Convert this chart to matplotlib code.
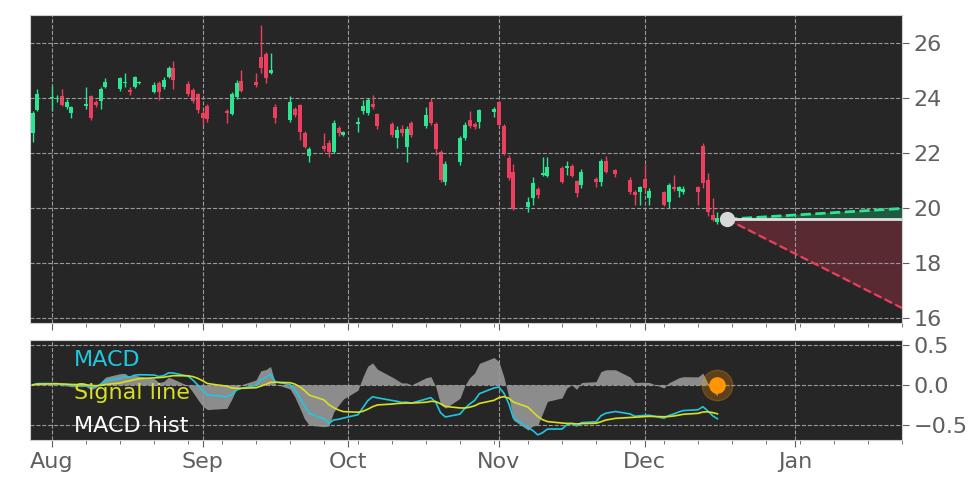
import pandas as pd
import numpy as np
import matplotlib
matplotlib.use('Agg')
import matplotlib.pyplot as plt
import matplotlib.dates as mdates

# trading days, Jul 28 - Dec 16 2022
dates = pd.bdate_range("2022-07-28", "2022-12-16", freq="C", holidays=["2022-09-05", "2022-11-24"])

opens = [22.70, 23.55, 23.98, 23.94, 24.04, 23.67, 23.43, 23.71, 24.04, 23.85, 23.89, 24.38, 24.30, 24.52, 24.28,
         24.40, 24.52, 24.22, 24.52, 24.40, 24.74, 25.07, 24.48, 24.28, 24.12, 23.43, 23.71, 23.52, 23.41, 24.01,
         24.61, 24.58, 25.47, 25.59, 24.88, 23.65, 23.19, 23.59, 23.72, 22.70, 21.88, 22.25, 22.34, 22.04, 22.88,
         22.64, 23.05, 23.53, 23.43, 23.76, 23.41, 23.04, 22.52, 22.85, 22.19, 23.07, 22.95, 23.85, 23.04, 22.04,
         20.95, 21.67, 22.52, 23.19, 23.04, 23.13, 23.47, 23.83, 22.95, 21.79, 21.31, 20.04, 20.34, 20.67, 21.19,
         21.16, 21.45, 21.43, 21.53, 20.97, 20.82, 21.03, 20.95, 21.71, 21.36, 21.01, 20.58, 20.58, 21.04, 20.34,
         20.56, 20.22, 20.74, 20.62, 20.58, 20.74, 22.24, 21.01, 19.73, 19.49]
closes = [23.43, 24.12, 24.00, 24.00, 23.73, 23.85, 23.67, 23.76, 23.25, 23.73, 24.30, 24.58, 24.70, 24.58, 24.22,
          24.74, 24.56, 24.46, 24.22, 24.64, 25.07, 24.64, 24.13, 23.89, 23.55, 23.25, 23.22, 23.43, 24.12, 24.52,
          24.24, 24.46, 25.07, 24.70, 25.01, 23.25, 23.84, 23.35, 22.76, 22.22, 22.12, 22.13, 22.04, 23.07, 22.70,
          22.74, 23.07, 23.70, 23.92, 23.65, 22.95, 22.64, 22.82, 22.70, 22.85, 22.64, 23.37, 23.07, 22.12, 21.01,
          21.59, 22.52, 23.02, 22.95, 22.92, 23.55, 23.59, 23.01, 21.98, 21.07, 19.94, 20.22, 20.88, 20.46, 21.25,
          21.47, 20.95, 21.52, 21.15, 20.52, 21.28, 20.92, 21.71, 21.31, 21.22, 20.58, 20.46, 20.76, 20.70, 20.62,
          20.10, 20.82, 20.67, 20.74, 20.68, 20.58, 20.91, 19.85, 19.55, 19.61]
highs = [23.50, 24.30, 24.42, 24.10, 24.30, 23.95, 23.70, 24.40, 24.10, 23.90, 24.38, 24.70, 24.75, 24.88, 24.40,
         24.80, 24.60, 24.55, 24.60, 24.75, 25.15, 25.33, 24.60, 24.35, 24.15, 23.50, 23.75, 23.60, 24.20, 24.64,
         25.01, 24.88, 26.65, 25.65, 25.61, 23.75, 24.04, 23.65, 23.75, 22.80, 22.20, 22.70, 22.45, 23.20, 22.95,
         22.80, 23.30, 23.90, 24.00, 24.10, 23.45, 23.10, 22.95, 23.00, 22.95, 23.15, 23.67, 23.98, 23.10, 22.10,
         21.70, 22.60, 23.10, 23.50, 23.10, 23.60, 23.65, 23.88, 23.05, 21.90, 21.60, 20.40, 21.10, 20.75, 21.85,
         21.85, 21.50, 21.71, 21.60, 21.00, 21.40, 21.10, 21.75, 21.88, 21.40, 21.10, 20.65, 20.80, 21.60, 20.70,
         20.60, 20.90, 21.19, 20.80, 20.80, 20.80, 22.36, 21.25, 20.34, 19.85]
lows = [22.40, 23.50, 23.50, 23.85, 23.70, 23.60, 23.25, 23.60, 23.20, 23.65, 23.60, 24.35, 24.25, 24.40, 24.10,
        24.35, 24.48, 24.15, 23.92, 24.30, 24.70, 24.30, 24.05, 23.80, 23.45, 23.00, 23.10, 23.07, 23.35, 23.95,
        24.20, 24.40, 24.90, 24.52, 24.85, 23.07, 23.10, 23.30, 22.46, 22.15, 21.67, 22.05, 21.85, 21.98, 22.60,
        22.60, 22.76, 23.40, 23.35, 23.60, 22.85, 22.55, 22.16, 22.60, 21.67, 22.55, 22.90, 23.00, 21.92, 20.95,
        20.82, 21.55, 22.45, 22.90, 22.85, 22.88, 23.30, 22.95, 21.90, 21.00, 19.90, 19.85, 20.10, 20.35, 21.15,
        21.10, 20.90, 21.20, 21.10, 20.40, 20.70, 20.75, 20.80, 21.25, 21.10, 20.50, 20.10, 20.10, 20.60, 20.10,
        20.05, 20.00, 20.60, 20.40, 20.50, 20.10, 20.70, 19.70, 19.50, 19.40]

# forecast cone
proj_start = pd.Timestamp("2022-12-18")
proj_end = pd.Timestamp("2023-01-23")
proj_base = 19.58
proj_up = 19.97
proj_down = 16.35

GREEN = '#2be592'
RED = '#ec3f5e'
BG = '#262626'
TXT = '#5f5f5f'

close_s = pd.Series(closes, index=dates)
macd = close_s.ewm(span=12).mean() - close_s.ewm(span=26).mean()
signal = macd.ewm(span=9).mean()
hist = macd - signal

fig = plt.figure(figsize=(9.72, 4.86), dpi=100)
ax = fig.add_axes([0.031, 0.335, 0.897, 0.634])
ax2 = fig.add_axes([0.031, 0.095, 0.897, 0.205], sharex=ax)

for a in (ax, ax2):
    a.set_facecolor(BG)
    a.grid(True, color='#9a9a9a', linestyle='--', linewidth=0.8)
    a.yaxis.tick_right()
    a.tick_params(colors=TXT, labelsize=16, length=5)
    for sp in a.spines.values():
        sp.set_color('#cfcfcf')

w = 0.6
for d, o, c, h, l in zip(dates, opens, closes, highs, lows):
    col = GREEN if c >= o else RED
    x = mdates.date2num(d)
    ax.vlines(x, l, h, color=col, linewidth=1)
    ax.bar(x, abs(c - o) if abs(c - o) > 0.03 else 0.05, bottom=min(o, c), width=w * 1.4, color=col, linewidth=0)

xs = mdates.date2num([proj_start, proj_end])
ax.fill_between(xs, [proj_base, proj_base], [proj_base, proj_up], color='#1d5a3e')
ax.fill_between(xs, [proj_base, proj_base], [proj_base, proj_down], color='#5a2a32')
ax.plot(xs, [proj_base, proj_up], '--', color=GREEN, linewidth=2)
ax.plot(xs, [proj_base, proj_down], '--', color=RED, linewidth=1.6)
ax.plot(xs, [proj_base, proj_base], '-', color='#e0e0e0', linewidth=2)
ax.plot(xs[0], proj_base, 'o', color='#d8d8d8', markersize=10, zorder=5)

ax.set_ylim(15.8, 27.0)
ax.set_yticks([16, 18, 20, 22, 24, 26])
ax.set_xlim(mdates.date2num(pd.Timestamp("2022-07-27 12:00")), xs[1])
plt.setp(ax.get_xticklabels(), visible=False)

ax2.fill_between(dates, 0, hist * 2.2, color='#8c8c8c', linewidth=0)
ax2.plot(dates, macd, color='#1ec8e0', linewidth=1.2)
ax2.plot(dates, signal, color='#d8e021', linewidth=1.2)
ax2.plot(dates[-1], 0, 'o', color='#ff9500', markersize=22, alpha=0.25)
ax2.plot(dates[-1], 0, 'o', color='#ff9500', markersize=11)
ax2.set_ylim(-0.69, 0.56)
ax2.set_yticks([-0.5, 0.0, 0.5])
ax2.xaxis.set_major_locator(mdates.MonthLocator())
ax2.xaxis.set_major_formatter(mdates.DateFormatter('%b'))
ax2.xaxis.set_minor_locator(mdates.WeekdayLocator(byweekday=mdates.MO))
ax2.tick_params(which='minor', colors=TXT, length=3)
ax.tick_params(which='minor', length=3, colors=TXT)

ax2.text(0.05, 0.80, 'MACD', color='#1ec8e0', fontsize=16, transform=ax2.transAxes, va='center')
ax2.text(0.05, 0.47, 'Signal line', color='#d8e021', fontsize=16, transform=ax2.transAxes, va='center')
ax2.text(0.05, 0.14, 'MACD hist', color='white', fontsize=16, transform=ax2.transAxes, va='center')

fig.savefig('out.png', dpi=100, facecolor='white')
